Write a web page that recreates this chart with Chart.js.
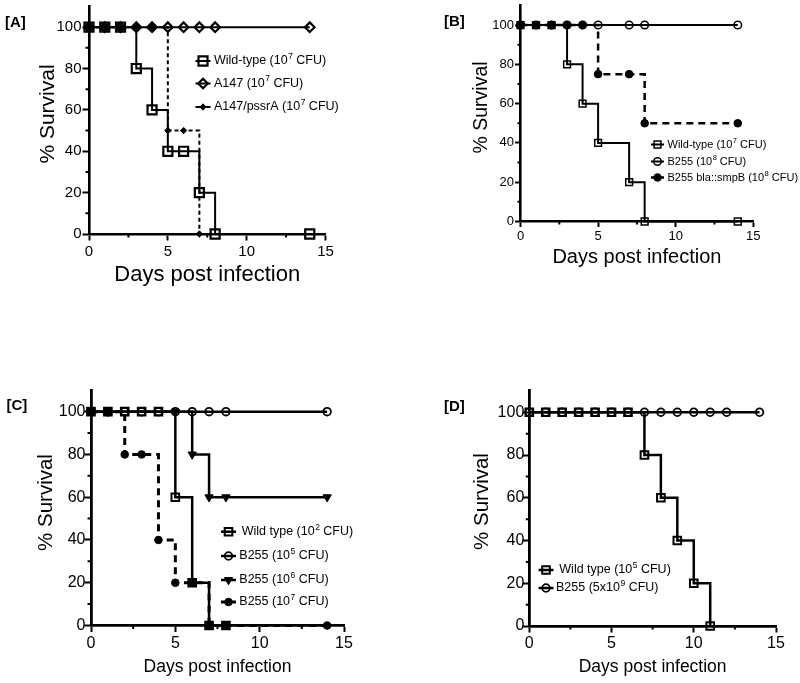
<!DOCTYPE html>
<html><head><meta charset="utf-8">
<script src="https://cdn.jsdelivr.net/npm/chart.js@4.4.1/dist/chart.umd.min.js"></script>
<style>
html,body{margin:0;padding:0;background:#fff;}
#wrap{position:relative;width:800px;height:683px;overflow:hidden;background:#fff;}
canvas{position:absolute;}
.lbl{position:absolute;font:bold 15px "Liberation Sans",Arial,sans-serif;line-height:15px;color:#000;white-space:nowrap;}
</style></head><body>
<div id="wrap">
<canvas id="cA"></canvas><canvas id="cB"></canvas><canvas id="cC"></canvas><canvas id="cD"></canvas>
<div class="lbl" style="left:5px;top:13.5px">[A]</div>
<div class="lbl" style="left:444px;top:12.5px">[B]</div>
<div class="lbl" style="left:6.5px;top:397px">[C]</div>
<div class="lbl" style="left:444px;top:397.5px">[D]</div>
</div>
<script>
// ---------- shared axis values ----------
const xTicks = [0, 5, 10, 15];
const xMinor = [2.5, 7.5, 12.5];
const yTicks = [0, 20, 40, 60, 80, 100];
const yMinor = [10, 30, 50, 70, 90];
const xMax = 15, yMax = 110;
const yTitle = '% Survival';
const xTitle = 'Days post infection';

// ---------- Panel A ----------
const daysA_wt = [0, 1, 2, 3, 4, 5, 6, 7, 8, 14];
const survA_wt = [100, 100, 100, 80, 60, 40, 40, 20, 0, 0];
const daysA_a147 = [0, 1, 2, 3, 4, 5, 6, 7, 8, 14];
const survA_a147 = [100, 100, 100, 100, 100, 100, 100, 100, 100, 100];
const daysA_pssrA = [0, 1, 2, 3, 4, 5, 6, 7];
const survA_pssrA = [100, 100, 100, 100, 100, 50, 50, 0];
const namesA = [['Wild-type (10', '7', ' CFU)'], ['A147 (10', '7', ' CFU)'], ['A147/pssrA (10', '7', ' CFU)']];

// ---------- Panel B ----------
const daysB_wt = [0, 1, 2, 3, 4, 5, 7, 8, 14];
const survB_wt = [100, 100, 100, 80, 60, 40, 20, 0, 0];
const daysB_b255 = [0, 1, 2, 3, 4, 5, 7, 8, 14];
const survB_b255 = [100, 100, 100, 100, 100, 100, 100, 100, 100];
const daysB_smpB = [0, 1, 2, 3, 4, 5, 7, 8, 14];
const survB_smpB = [100, 100, 100, 100, 100, 75, 75, 50, 50];
const namesB = [['Wild-type (10', '7', ' CFU)'], ['B255 (10', '8', ' CFU)'], ['B255 bla::smpB (10', '8', ' CFU)']];

// ---------- Panel C ----------
const daysC_wt = [0, 1, 2, 3, 4, 5, 6, 7, 8];
const survC_wt = [100, 100, 100, 100, 100, 60, 20, 0, 0];
const daysC_e5 = [0, 1, 2, 3, 4, 5, 6, 7, 8, 14];
const survC_e5 = [100, 100, 100, 100, 100, 100, 100, 100, 100, 100];
const daysC_e6 = [0, 1, 5, 6, 7, 8, 14];
const survC_e6 = [100, 100, 100, 80, 60, 60, 60];
const daysC_e7 = [0, 1, 2, 3, 4, 5, 6, 7, 8, 14];
const survC_e7 = [100, 100, 80, 80, 40, 20, 20, 0, 0, 0];
const namesC = [['Wild type (10', '2', ' CFU)'], ['B255 (10', '5', ' CFU)'], ['B255 (10', '6', ' CFU)'], ['B255 (10', '7', ' CFU)']];

// ---------- Panel D ----------
const daysD_wt = [0, 1, 2, 3, 4, 5, 6, 7, 8, 9, 10, 11];
const survD_wt = [100, 100, 100, 100, 100, 100, 100, 80, 60, 40, 20, 0];
const daysD_b255 = [0, 1, 2, 3, 4, 5, 6, 7, 8, 9, 10, 11, 12, 14];
const survD_b255 = [100, 100, 100, 100, 100, 100, 100, 100, 100, 100, 100, 100, 100, 100];
const namesD = [['Wild type (10', '5', ' CFU)'], ['B255 (5x10', '9', ' CFU)']];

// ---------- helpers ----------
const FONT = '"Liberation Sans", Arial, Helvetica, sans-serif';
Chart.defaults.font.family = FONT;
Chart.defaults.color = '#000';
const pts = (xs, ys) => xs.map((x, i) => ({x: x, y: ys[i]}));
const CLEAR = 'rgba(0,0,0,0)';

function series(xs, ys, st) {
  return {
    data: pts(xs, ys), stepped: true, fill: false, clip: false,
    borderColor: '#000', borderWidth: st.lw, borderDash: st.dash || [],
    pointStyle: st.ps, pointRadius: st.r, pointRotation: st.rot || 0,
    pointBorderWidth: st.pbw, pointBorderColor: '#000',
    pointBackgroundColor: st.filled ? '#000' : CLEAR,
    pointHoverRadius: st.r, pointHoverBorderWidth: st.pbw
  };
}

const minorTicks = {
  id: 'minorTicks',
  afterDraw(chart, args, o) {
    const ctx = chart.ctx, a = chart.chartArea, xs = chart.scales.x, ys = chart.scales.y;
    ctx.save(); ctx.strokeStyle = '#000'; ctx.lineWidth = o.w; ctx.setLineDash([]);
    ctx.beginPath();
    yMinor.forEach(v => { const p = ys.getPixelForValue(v); ctx.moveTo(a.left, p); ctx.lineTo(a.left - o.len, p); });
    xMinor.forEach(v => { const p = xs.getPixelForValue(v); ctx.moveTo(p, a.bottom); ctx.lineTo(p, a.bottom + o.len); });
    ctx.stroke(); ctx.restore();
  }
};

const yTitlePlugin = {
  id: 'yTitleText',
  afterDraw(chart, args, o) {
    const ctx = chart.ctx;
    ctx.save();
    ctx.translate(o.x - o.ox, o.y - o.oy);
    ctx.rotate(-Math.PI / 2);
    ctx.fillStyle = '#000'; ctx.font = o.fs + 'px ' + FONT;
    ctx.textAlign = 'center'; ctx.textBaseline = 'middle';
    ctx.fillText(yTitle, 0, 0);
    ctx.restore();
  }
};

function marker(ctx, ds, x, y) {
  ctx.fillStyle = ds.pointBackgroundColor; ctx.strokeStyle = '#000'; ctx.lineWidth = ds.pointBorderWidth;
  ctx.setLineDash([]);
  if (Chart.helpers && Chart.helpers.drawPoint) {
    Chart.helpers.drawPoint(ctx, {pointStyle: ds.pointStyle, rotation: ds.pointRotation, radius: ds.pointRadius, borderWidth: ds.pointBorderWidth}, x, y);
  } else {
    ctx.beginPath(); ctx.arc(x, y, ds.pointRadius, 0, Math.PI * 2); ctx.fill(); ctx.stroke();
  }
}

const panelLegend = {
  id: 'panelLegend',
  afterDatasetsDraw(chart, args, o) {
    const ctx = chart.ctx;
    o.items.forEach((it, i) => {
      const ds = chart.data.datasets[i];
      const cx = o.mx - o.ox, cy = it.y - o.oy;
      ctx.save();
      ctx.strokeStyle = '#000'; ctx.lineWidth = ds.borderWidth; ctx.setLineDash([]);
      ctx.beginPath(); ctx.moveTo(cx - o.half, cy); ctx.lineTo(cx + o.half, cy); ctx.stroke();
      marker(ctx, ds, cx, cy);
      const parts = o.names[i];
      let tx = it.tx - o.ox;
      ctx.fillStyle = '#000'; ctx.textBaseline = 'middle'; ctx.textAlign = 'left';
      const base = o.fs + 'px ' + FONT, sup = (o.fs * 0.68).toFixed(1) + 'px ' + FONT;
      ctx.font = base; ctx.fillText(parts[0], tx, cy); tx += ctx.measureText(parts[0]).width + 0.5;
      ctx.font = sup; ctx.fillText(parts[1], tx, cy - o.fs * 0.36); tx += ctx.measureText(parts[1]).width;
      ctx.font = base; ctx.fillText(parts[2], tx, cy);
      ctx.restore();
    });
  }
};

function makeChart(id, P, datasets) {
  const cv = document.getElementById(id);
  cv.width = P.cw; cv.height = P.ch;
  cv.style.left = P.cx + 'px'; cv.style.top = P.cy + 'px';
  cv.style.width = P.cw + 'px'; cv.style.height = P.ch + 'px';
  const padTop = P.area.top - P.cy, padRight = P.cx + P.cw - P.area.right;
  const yW = P.area.left - P.cx, xH = P.cy + P.ch - P.area.bottom;
  const zeroPad = s => { s.paddingLeft = 0; s.paddingRight = 0; s.paddingTop = 0; s.paddingBottom = 0; };
  const grid = {display: true, drawOnChartArea: false, drawTicks: true, tickLength: P.tickLen, tickWidth: P.tickW, tickColor: '#000', color: '#000'};
  const border = {display: true, color: '#000', width: P.axisW};
  new Chart(cv, {
    type: 'line',
    data: {datasets: datasets},
    options: {
      responsive: false, animation: false, devicePixelRatio: 1,
      events: [],
      layout: {padding: {left: 0, top: padTop, right: padRight, bottom: 0}},
      plugins: {
        legend: {display: false}, tooltip: {enabled: false},
        minorTicks: {w: P.tickW, len: P.minorLen},
        yTitleText: {x: P.yt.x, y: P.yt.y, fs: P.yt.fs, ox: P.cx, oy: P.cy},
        panelLegend: Object.assign({ox: P.cx, oy: P.cy}, P.legend)
      },
      scales: {
        x: {
          type: 'linear', min: 0, max: xMax,
          afterBuildTicks: s => { s.ticks = xTicks.map(v => ({value: v})); },
          afterFit: s => { s.height = xH; zeroPad(s); },
          ticks: {autoSkip: false, maxRotation: 0, padding: P.xPad, font: {size: P.tickFs}, color: '#000'},
          grid: grid, border: border,
          title: {display: true, text: xTitle, color: '#000', font: {size: P.xtFs, lineHeight: 1}, padding: {top: 0, bottom: P.xtPad}}
        },
        y: {
          type: 'linear', min: 0, max: yMax,
          afterBuildTicks: s => { s.ticks = yTicks.map(v => ({value: v})); },
          afterFit: s => { s.width = yW; zeroPad(s); },
          ticks: {autoSkip: false, padding: P.yPad, font: {size: P.tickFs}, color: '#000'},
          grid: grid, border: border,
          title: {display: false}
        }
      }
    },
    plugins: [minorTicks, yTitlePlugin, panelLegend]
  });
}

// ---------- Panel A ----------
makeChart('cA', {
  cx: 0, cy: -20, cw: 400, ch: 320,
  area: {left: 89, top: 6.5, right: 325.5, bottom: 234},
  tickFs: 15, tickLen: 6.5, tickW: 2, minorLen: 3.5, axisW: 2.6, xPad: 2, yPad: 1,
  xtFs: 22, xtPad: 14, yt: {x: 48, y: 114, fs: 21},
  legend: {mx: 203, half: 7.5, fs: 12.5, names: namesA, items: [{y: 61, tx: 214}, {y: 83.5, tx: 214}, {y: 107, tx: 214}]}
}, [
  series(daysA_wt, survA_wt, {lw: 2, ps: 'rect', r: 6.4, pbw: 2.2}),
  series(daysA_a147, survA_a147, {lw: 2, ps: 'rectRot', r: 4.8, pbw: 2.2}),
  series(daysA_pssrA, survA_pssrA, {lw: 2, dash: [4, 3], ps: 'rectRot', r: 3.2, pbw: 1, filled: true})
]);

// ---------- Panel B ----------
makeChart('cB', {
  cx: 440, cy: -20, cw: 360, ch: 320,
  area: {left: 520.5, top: 5.4, right: 753.3, bottom: 221.5},
  tickFs: 13, tickLen: 5.5, tickW: 2, minorLen: 3, axisW: 2.6, xPad: 2, yPad: 1,
  xtFs: 20, xtPad: 33, yt: {x: 482, y: 107.5, fs: 19.5},
  legend: {mx: 657.5, half: 6.5, fs: 11, names: namesB, items: [{y: 144.5, tx: 667.5}, {y: 161.5, tx: 667.5}, {y: 177.5, tx: 667.5}]}
}, [
  series(daysB_wt, survB_wt, {lw: 2, ps: 'rect', r: 4.8, pbw: 1.5}),
  series(daysB_b255, survB_b255, {lw: 2, ps: 'circle', r: 3.8, pbw: 1.5}),
  series(daysB_smpB, survB_smpB, {lw: 2.5, dash: [7, 5], ps: 'circle', r: 3.8, pbw: 1, filled: true})
]);

// ---------- Panel C ----------
makeChart('cC', {
  cx: 0, cy: 340, cw: 400, ch: 343,
  area: {left: 91, top: 390.3, right: 344, bottom: 625.5},
  tickFs: 16, tickLen: 6.5, tickW: 2, minorLen: 3.5, axisW: 2.8, xPad: 1.5, yPad: -1,
  xtFs: 17.5, xtPad: 7.5, yt: {x: 46.7, y: 502.5, fs: 20.5},
  legend: {mx: 228.5, half: 7.5, fs: 12.5, names: namesC, items: [{y: 531.7, tx: 241.7}, {y: 556, tx: 239.3}, {y: 580, tx: 239.3}, {y: 602, tx: 239.3}]}
}, [
  series(daysC_wt, survC_wt, {lw: 2.5, ps: 'rect', r: 5.4, pbw: 2}),
  series(daysC_e5, survC_e5, {lw: 2.5, ps: 'circle', r: 3.8, pbw: 1.8}),
  series(daysC_e6, survC_e6, {lw: 2.5, ps: 'triangle', rot: 180, r: 4.8, pbw: 1, filled: true}),
  series(daysC_e7, survC_e7, {lw: 3, dash: [7, 5], ps: 'circle', r: 3.8, pbw: 1, filled: true})
]);

// ---------- Panel D ----------
makeChart('cD', {
  cx: 440, cy: 340, cw: 360, ch: 343,
  area: {left: 529.3, top: 390.9, right: 776, bottom: 626},
  tickFs: 16, tickLen: 6.5, tickW: 2, minorLen: 3.5, axisW: 2.8, xPad: 1.5, yPad: -1.5,
  xtFs: 17.5, xtPad: 7, yt: {x: 482, y: 501.5, fs: 20.5},
  legend: {mx: 546, half: 7.5, fs: 12.5, names: namesD, items: [{y: 570, tx: 559.3}, {y: 588, tx: 556}]}
}, [
  series(daysD_wt, survD_wt, {lw: 2.5, ps: 'rect', r: 5.4, pbw: 2}),
  series(daysD_b255, survD_b255, {lw: 2.5, ps: 'circle', r: 3.8, pbw: 1.8})
]);
</script>
</body></html>
